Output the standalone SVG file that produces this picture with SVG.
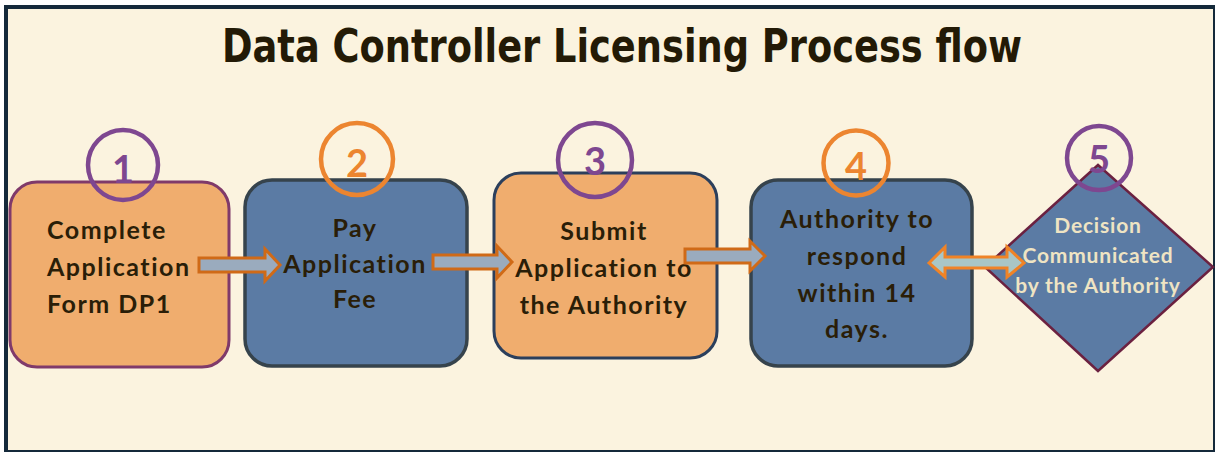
<svg xmlns="http://www.w3.org/2000/svg" width="1215" height="454" viewBox="0 0 1215 454">
  <style>
    .frame { fill: #FBF3DF; }
    .edge { fill: #14293A; }
    .title { font-family: "DejaVu Sans Condensed", "DejaVu Sans", sans-serif; font-weight: bold; font-size: 46px; fill: #231A06; }
    .lbl { font-family: Lato, "Open Sans", sans-serif; font-weight: bold; font-size: 25px; fill: #2A1E08; letter-spacing: 1.5px; }
    .lbl-light { font-family: Lato, "Open Sans", sans-serif; font-weight: bold; font-size: 21px; fill: #EFE4C3; letter-spacing: 0.8px; }
    .num { font-family: Lato, "Open Sans", sans-serif; font-weight: bold; font-size: 38px; text-anchor: middle; }
    .orangebox { fill: #F0AD6E; }
    .bluebox { fill: #5B7BA4; }
    .ring { fill: none; stroke-width: 4.5; }
    .purple { stroke: #7E4790; }
    .orange { stroke: #EC8530; }
    .numP { fill: #7E4790; }
    .numO { fill: #EC8530; }
    .arrow { fill: #9AABBE; stroke: #D06A17; stroke-width: 3; stroke-linejoin: miter; }
    .darrow { fill: #A9C6C6; stroke: #F08326; stroke-width: 3; stroke-linejoin: miter; }
  </style>
  <rect x="0" y="0" width="1215" height="454" fill="#FFFFFF"/>
  <rect class="frame" x="4" y="5" width="1211" height="447"/>
  <rect class="edge" x="4" y="5" width="1211" height="4"/>
  <rect class="edge" x="4" y="5" width="4" height="447"/>
  <rect class="edge" x="1213" y="5" width="2" height="447"/>
  <rect class="edge" x="4" y="450" width="1211" height="2"/>

  <text class="title" x="222" y="62" textLength="800" lengthAdjust="spacingAndGlyphs">Data Controller Licensing Process flow</text>

  <g id="node1">
    <rect class="orangebox" x="10" y="182" width="219" height="185" rx="27" stroke="#803A6A" stroke-width="3"/>
    <circle class="ring purple" cx="123" cy="165" r="35"/>
    <text class="num numP" x="123" y="183">1</text>
    <text class="lbl" x="47" y="239">Complete</text>
    <text class="lbl" x="47" y="276">Application</text>
    <text class="lbl" x="47" y="313">Form DP1</text>
  </g>

  <g id="node2">
    <rect class="bluebox" x="245" y="180" width="222" height="186" rx="27" stroke="#36434C" stroke-width="3.5"/>
    <circle class="ring orange" cx="357" cy="159" r="36"/>
    <text class="num numO" x="357" y="177">2</text>
    <text class="lbl" x="355" y="237" text-anchor="middle">Pay</text>
    <text class="lbl" x="355" y="273" text-anchor="middle">Application</text>
    <text class="lbl" x="355" y="308" text-anchor="middle">Fee</text>
  </g>

  <g id="node3">
    <rect class="orangebox" x="494" y="173" width="223" height="185" rx="27" stroke="#2B3F5C" stroke-width="3"/>
    <circle class="ring purple" cx="595" cy="160" r="37"/>
    <text class="num numP" x="595" y="175">3</text>
    <text class="lbl" x="604" y="240" text-anchor="middle">Submit</text>
    <text class="lbl" x="604" y="277" text-anchor="middle">Application to</text>
    <text class="lbl" x="604" y="314" text-anchor="middle">the Authority</text>
  </g>

  <g id="node4">
    <rect class="bluebox" x="751" y="180" width="221" height="186" rx="27" stroke="#36434C" stroke-width="3.5"/>
    <circle class="ring orange" cx="856" cy="163" r="32.5"/>
    <text class="num numO" x="856" y="180">4</text>
    <text class="lbl" x="857" y="228" text-anchor="middle">Authority to</text>
    <text class="lbl" x="857" y="265" text-anchor="middle">respond</text>
    <text class="lbl" x="857" y="302" text-anchor="middle">within 14</text>
    <text class="lbl" x="857" y="338" text-anchor="middle">days.</text>
  </g>

  <g id="node5">
    <polygon points="1098,165 1213,267 1098,371 985,267" fill="#5B7BA4" stroke="#6B2140" stroke-width="2.5" stroke-linejoin="miter"/>
    <circle class="ring purple" cx="1099" cy="158" r="32"/>
    <text class="num numP" x="1099" y="173">5</text>
    <text class="lbl-light" x="1098" y="233" text-anchor="middle">Decision</text>
    <text class="lbl-light" x="1098" y="263" text-anchor="middle">Communicated</text>
    <text class="lbl-light" x="1098" y="293" text-anchor="middle">by the Authority</text>
  </g>

  <g id="connectors">
    <polygon class="arrow" points="199,258 265,258 265,249 280,265 265,281 265,272 199,272"/>
    <polygon class="arrow" points="433,255 497,255 497,246 512,262 497,278 497,269 433,269"/>
    <polygon class="arrow" points="685,249 750,249 750,241 765,256 750,271 750,263 685,263"/>
    <polygon class="darrow" points="929,263 945,247 945,257 1007,257 1007,247 1024,263 1007,277 1007,268 945,268 945,277"/>
  </g>
</svg>
